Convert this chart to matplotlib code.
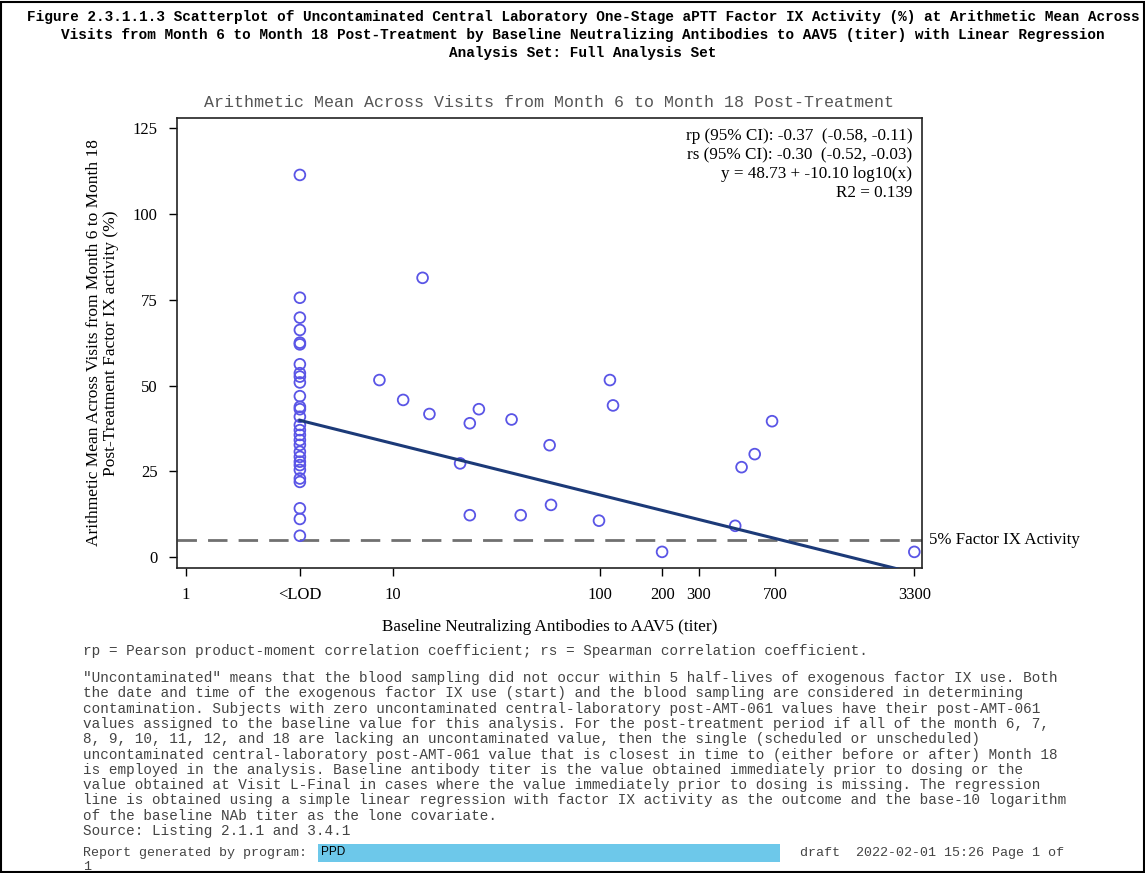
import matplotlib
matplotlib.use("Agg")
import matplotlib.pyplot as plt
from matplotlib.patches import Rectangle
import numpy as np

# ---- data -------------------------------------------------------------
lod_position = 3.55  # where titers below the limit of detection are plotted
lod_values = [111.4, 75.6, 69.8, 66.2, 62.5, 62.0, 56.2, 53.6, 52.6, 50.9,
              46.9, 43.8, 43.1, 40.9, 38.5, 37.0, 35.6, 34.1, 32.7, 30.7,
              29.2, 27.8, 26.8, 25.4, 22.9, 21.9, 14.2, 11.1, 6.2]
titers = [8.6, 13.9, 11.2, 15.0, 23.5, 26.0, 37.4, 57.1, 21.1, 23.5, 41.4,
          58.0, 98.9, 111.7, 115.6, 199.5, 450, 483, 559, 678, 3300]
titer_values = [51.6, 81.4, 45.8, 41.7, 39.0, 43.1, 40.1, 32.6, 27.3, 12.2,
                12.2, 15.2, 10.6, 51.6, 44.2, 1.5, 9.1, 26.2, 30.0, 39.6, 1.5]

x_ticks = [1, lod_position, 10, 100, 200, 300, 700, 3300]
x_tick_labels = ["1", "<LOD", "10", "100", "200", "300", "700", "3300"]
y_ticks = [0, 25, 50, 75, 100, 125]

line_intercept = 48.1
line_slope = -15.0
threshold = 5

stats_lines = ["rp (95% CI): -0.37  (-0.58, -0.11)",
               "rs (95% CI): -0.30  (-0.52, -0.03)",
               "y = 48.73 + -10.10 log10(x)",
               "R2 = 0.139"]

title_lines = [
    "Figure 2.3.1.1.3 Scatterplot of Uncontaminated Central Laboratory One-Stage aPTT Factor IX Activity (%) at Arithmetic Mean Across",
    "Visits from Month 6 to Month 18 Post-Treatment by Baseline Neutralizing Antibodies to AAV5 (titer) with Linear Regression",
    "Analysis Set: Full Analysis Set",
]
subtitle = "Arithmetic Mean Across Visits from Month 6 to Month 18 Post-Treatment"

footnote_1 = "rp = Pearson product-moment correlation coefficient; rs = Spearman correlation coefficient."
footnote_2 = [
    '"Uncontaminated" means that the blood sampling did not occur within 5 half-lives of exogenous factor IX use. Both',
    'the date and time of the exogenous factor IX use (start) and the blood sampling are considered in determining',
    'contamination. Subjects with zero uncontaminated central-laboratory post-AMT-061 values have their post-AMT-061',
    'values assigned to the baseline value for this analysis. For the post-treatment period if all of the month 6, 7,',
    '8, 9, 10, 11, 12, and 18 are lacking an uncontaminated value, then the single (scheduled or unscheduled)',
    'uncontaminated central-laboratory post-AMT-061 value that is closest in time to (either before or after) Month 18',
    'is employed in the analysis. Baseline antibody titer is the value obtained immediately prior to dosing or the',
    'value obtained at Visit L-Final in cases where the value immediately prior to dosing is missing. The regression',
    'line is obtained using a simple linear regression with factor IX activity as the outcome and the base-10 logarithm',
    'of the baseline NAb titer as the lone covariate.',
]
source_line = "Source: Listing 2.1.1 and 3.4.1"

# ---- figure -----------------------------------------------------------
W, H = 1145, 873
fig = plt.figure(figsize=(W / 100, H / 100), dpi=100)
fig.patch.set_facecolor("white")

def fx(px):
    return px / W

def fy(py):
    return 1 - py / H

mono = ["Liberation Mono", "DejaVu Sans Mono"]
serif = ["Liberation Serif", "DejaVu Serif"]

# outer frame
fig.add_artist(Rectangle((0.001, 0.001), 0.998, 0.997, transform=fig.transFigure,
                         fill=False, edgecolor="black", linewidth=1.5))

for i, line in enumerate(title_lines):
    fig.text(fx(583), fy(17 + 18 * i), line, ha="center", va="center",
             family=mono, fontsize=10.4, fontweight="bold", color="black")

ax = fig.add_axes([fx(177), fy(568), fx(922) - fx(177), fy(118) - fy(568)])
ax.set_xscale("log")
ax.set_xlim(0.905, 3594)
ax.set_ylim(-3.2, 128)

ax.scatter([lod_position] * len(lod_values), lod_values, s=60, facecolors="none",
           edgecolors="#5a55e6", linewidths=1.3, zorder=3)
ax.scatter(titers, titer_values, s=60, facecolors="none",
           edgecolors="#5a55e6", linewidths=1.3, zorder=3)

xl = np.array([lod_position, 3300])
ax.plot(xl, line_intercept + line_slope * np.log10(xl), color="#1c3a78",
        linewidth=2.2, zorder=4)
ax.axhline(threshold, color="#707070", linewidth=2, dashes=(7, 4), zorder=2)
ax.text(1.01, threshold, "5% Factor IX Activity", transform=ax.get_yaxis_transform(),
        ha="left", va="center", family=serif, fontsize=12.2)

ax.set_xticks(x_ticks)
ax.set_xticklabels(x_tick_labels)
ax.xaxis.set_minor_locator(matplotlib.ticker.NullLocator())
ax.set_yticks(y_ticks)
for lab in ax.get_xticklabels() + ax.get_yticklabels():
    lab.set_family(serif)
    lab.set_fontsize(12)
ax.tick_params(direction="out", length=6, width=1, colors="black", pad=8)
for sp in ax.spines.values():
    sp.set_linewidth(1.2)
    sp.set_color("#222222")

ax.set_xlabel("Baseline Neutralizing Antibodies to AAV5 (titer)", family=serif,
              fontsize=12.3, labelpad=11)
ax.set_ylabel("Arithmetic Mean Across Visits from Month 6 to Month 18\n"
              "Post-Treatment Factor IX activity (%)", family=serif,
              fontsize=12.5, labelpad=10, linespacing=1.05)

ax.text(0.5, 1.035, subtitle, transform=ax.transAxes, ha="center", va="center",
        family=mono, fontsize=12, color="#555555")

ax.text(0.987, 0.978, "\n".join(stats_lines), transform=ax.transAxes, ha="right",
        va="top", family=serif, fontsize=12.3, linespacing=1.25, multialignment="right")

# ---- footnotes --------------------------------------------------------
foot_kw = dict(family=mono, fontsize=10.4, color="#444444", ha="left", va="center")
fig.text(fx(83), fy(651), footnote_1, **foot_kw)
for i, line in enumerate(footnote_2):
    fig.text(fx(83), fy(678 + 15.3 * i), line, **foot_kw)
fig.text(fx(83), fy(831), source_line, **foot_kw)
report_kw = dict(foot_kw, fontsize=9.6)
fig.text(fx(83), fy(853), "Report generated by program:", **report_kw)
fig.add_artist(Rectangle((fx(318), fy(862)), fx(780) - fx(318), fy(844) - fy(862),
                         transform=fig.transFigure, facecolor="#6dc8ea",
                         edgecolor="none"))
fig.text(fx(321), fy(852), "PPD", family=["Liberation Sans", "DejaVu Sans"],
         fontsize=8.5, color="black", ha="left", va="center")
fig.text(fx(800), fy(853), "draft  2022-02-01 15:26 Page 1 of", **report_kw)
fig.text(fx(83), fy(867), "1", **report_kw)

fig.savefig("out.png", dpi=100)
